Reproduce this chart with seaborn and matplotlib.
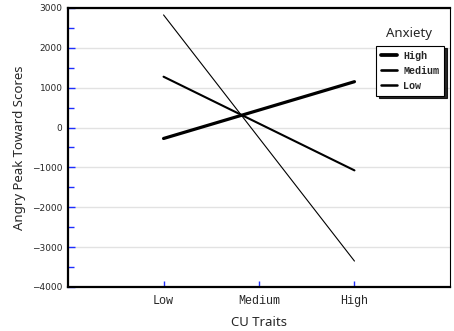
import pandas as pd
import matplotlib
matplotlib.use("Agg")
import matplotlib.pyplot as plt
import matplotlib.ticker as mticker
import seaborn as sns

# ── DATA ──────────────────────────────────────────────────────────────────────
cu_levels = ["Low", "Medium", "High"]
cu_pos = [1, 2, 3]
anxiety_levels = ["High", "Medium", "Low"]
score_high = [-275, 1150]
score_medium = [1275, -1075]
score_low = [2825, -3350]
ends = [cu_pos[0], cu_pos[2]]

df = pd.DataFrame({
    "cu": ends * 3,
    "score": score_high + score_medium + score_low,
    "Anxiety": [a for a in anxiety_levels for _ in ends],
})

sns.set_theme(style="white")
plt.rcParams["font.family"] = "DejaVu Sans"

fig = plt.figure(figsize=(4.54, 3.31), dpi=100)
ax = fig.add_axes([0.150, 0.133, 0.841, 0.843])

ax.grid(axis="y", color="#e2e2e2", linewidth=1)
ax.set_axisbelow(True)

sns.lineplot(data=df, x="cu", y="score", hue="Anxiety", size="Anxiety",
             hue_order=anxiety_levels, size_order=anxiety_levels,
             palette={"High": "black", "Medium": "black", "Low": "black"},
             sizes={"High": 2.3, "Medium": 1.5, "Low": 0.8},
             ax=ax, legend="full")

ax.set_xlim(0, 4)
ax.set_ylim(-4000, 3000)
ax.set_xticks(cu_pos)
ax.set_xticklabels(cu_levels, family="Liberation Mono", fontsize=8.5)
ax.yaxis.set_major_locator(mticker.MultipleLocator(1000))
ax.yaxis.set_minor_locator(mticker.MultipleLocator(500))
for lab in ax.get_yticklabels():
    lab.set_fontsize(6.5)

ax.tick_params(axis="y", which="major", direction="in", length=5, width=1,
               color="#2030ff", pad=4, left=True)
ax.tick_params(axis="y", which="minor", direction="in", length=4, width=1,
               color="#2030ff", left=True)
ax.tick_params(axis="x", which="major", direction="in", length=4, width=1,
               color="#2030ff", pad=6, bottom=True)

for side, lw in [("left", 1.6), ("bottom", 1.6), ("top", 1.6), ("right", 0.8)]:
    ax.spines[side].set_visible(True)
    ax.spines[side].set_color("black")
    ax.spines[side].set_linewidth(lw)

ax.set_xlabel("CU Traits", family="Noto Sans", fontsize=9.5, labelpad=6)
ax.set_ylabel("Angry Peak Toward Scores", family="Noto Sans", fontsize=9.5,
              labelpad=4)

handles, labels = ax.get_legend_handles_labels()
for h in handles:
    h.set_linewidth(max(h.get_linewidth() + 0.4, 1.8))
leg = ax.legend(handles, labels, loc="upper right", bbox_to_anchor=(0.985, 0.865),
                borderaxespad=0,
                frameon=True, fancybox=False, framealpha=1, edgecolor="black",
                shadow={"color": "black", "alpha": 0.85},
                prop={"family": "Liberation Mono", "size": 7.2, "weight": "bold"},
                handlelength=1.6, handletextpad=0.6, borderpad=0.5,
                labelspacing=0.5)
leg.get_frame().set_linewidth(0.8)

ax.text(0.893, 0.907, "Anxiety", transform=ax.transAxes, ha="center",
        va="center", family="Noto Sans", fontsize=9.5)

fig.savefig("out.png", dpi=100)
